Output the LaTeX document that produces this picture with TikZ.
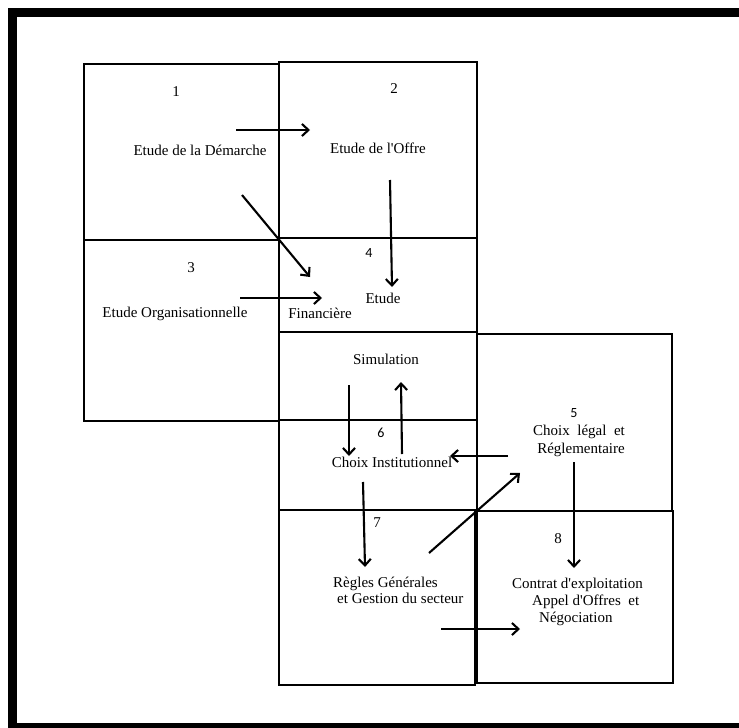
\documentclass[tikz,border=0pt]{standalone}
\usepackage{fontspec}
\setmainfont{Liberation Serif}
\newfontfamily\numfont{Carlito}
\usetikzlibrary{arrows.meta}
\newcommand{\apos}{\textquotesingle}

\begin{document}
\begin{tikzpicture}[x=1pt, y=-1pt, font=\fontsize{15}{17}\selectfont,
	box/.style={draw, line width=1.7pt, inner sep=0pt, outer sep=0pt},
	txt/.style={inner sep=0pt, anchor=base},
	txtl/.style={inner sep=0pt, anchor=base west},
	flow/.style={line width=2.1pt, -{Straight Barb[length=6.5pt,width=12pt]}}]
	\useasboundingbox (0,0) rectangle (739,728);
	\clip (0,0) rectangle (739,728);
	\draw[line width=8.8pt] (12.8,12.3) rectangle (745,727.6);
	\node[box, minimum width=195, minimum height=176] (b1) at (181.5,152) {};
	\node[box, minimum width=198, minimum height=176] (b2) at (378,150) {};
	\node[box, minimum width=195, minimum height=181] (b3) at (181.5,330.5) {};
	\node[box, minimum width=198, minimum height=94] (b4) at (378,285) {};
	\node[box, minimum width=198, minimum height=88] (bs) at (378,376) {};
	\node[box, minimum width=198, minimum height=90] (b6) at (378,465) {};
	\node[box, minimum width=196, minimum height=175] (b7) at (377,597.5) {};
	\node[box, minimum width=195, minimum height=177] (b5) at (574.5,422.5) {};
	\node[box, minimum width=196, minimum height=172] (b8) at (575,597) {};
	\node[txt] (n1) at (176,96) {1};
	\node[txt] (t1) at (200,155) {Etude de la Démarche};
	\node[txt] (n2) at (394,93) {2};
	\node[txt] (t2) at (378,153) {Etude de l\apos Offre};
	\node[txt] (n3) at (191,272) {3};
	\node[txt] (t3) at (175,317) {Etude Organisationnelle};
	\node[txt, font=\numfont\fontsize{14}{16}\selectfont] (n4) at (369,257) {4};
	\node[txt] (t4a) at (383,303) {Etude};
	\node[txt] (t4b) at (320,318) {Financière};
	\node[txt] (ts) at (386,364) {Simulation};
	\node[txt, font=\numfont\fontsize{14}{16}\selectfont] (n6) at (381,437) {6};
	\node[txt] (t6) at (392,467) {Choix Institutionnel};
	\node[txt, font=\numfont\fontsize{14}{16}\selectfont] (n5) at (574,417) {5};
	\node[txt] (t5a) at (579,435) {Choix\ \ légal\ \ et};
	\node[txt] (t5b) at (581,453) {Réglementaire};
	\node[txt] (n7) at (377,527) {7};
	\node[txtl] (t7a) at (333,587) {Règles Générales};
	\node[txtl] (t7b) at (337,603) {et Gestion du secteur};
	\node[txt] (n8) at (558,543) {8};
	\node[txtl] (t8a) at (512,588) {Contrat d\apos exploitation};
	\node[txtl] (t8b) at (532,605) {Appel d\apos Offres\ \ et};
	\node[txtl] (t8c) at (539,622) {Négociation};
	\coordinate (a1s) at (236,130); \coordinate (a1e) at (310,130);
	\coordinate (a2s) at (242,195); \coordinate (a2e) at (310,277);
	\coordinate (a3s) at (240,298); \coordinate (a3e) at (322,298);
	\coordinate (a4s) at (390,180); \coordinate (a4e) at (392,287);
	\coordinate (a5s) at (349,385); \coordinate (a5e) at (349,456);
	\coordinate (a6s) at (402,454); \coordinate (a6e) at (401,382);
	\coordinate (a7s) at (508,456); \coordinate (a7e) at (450,456);
	\coordinate (a8s) at (363,482); \coordinate (a8e) at (365,567);
	\coordinate (a9s) at (429,553); \coordinate (a9e) at (520,473);
	\coordinate (a10s) at (574,462); \coordinate (a10e) at (574,568);
	\coordinate (a11s) at (441,629); \coordinate (a11e) at (520,629);
	\foreach \a in {a1,a2,a3,a4,a5,a6,a7,a8,a9,a10,a11}
	  \draw[flow] (\a s) -- (\a e);
\end{tikzpicture}
\end{document}
